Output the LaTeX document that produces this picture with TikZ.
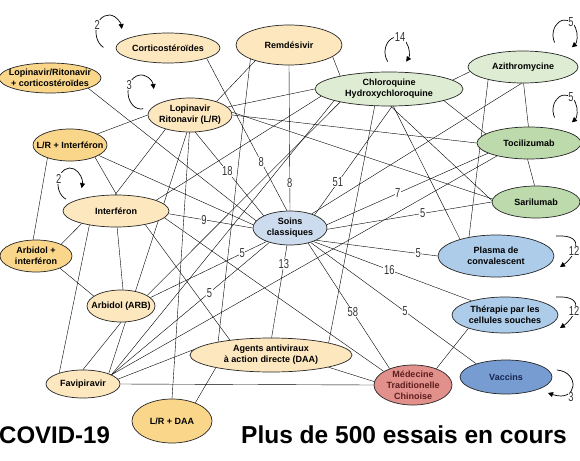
\documentclass[tikz,border=0pt]{standalone}
\usepackage{fontspec}
\setmainfont{Liberation Sans}
\usepackage{graphicx}
\usetikzlibrary{shapes.geometric,arrows.meta,backgrounds}

\definecolor{peachL}{RGB}{252,231,190}
\definecolor{peachD}{RGB}{249,214,137}
\definecolor{greenL}{RGB}{221,236,210}
\definecolor{greenD}{RGB}{188,218,172}
\definecolor{soinsB}{RGB}{205,219,238}
\definecolor{blueL}{RGB}{172,204,234}
\definecolor{blueD}{RGB}{118,156,210}
\definecolor{redL}{RGB}{226,144,140}
\definecolor{redT}{RGB}{92,30,30}
\definecolor{blueT}{RGB}{22,36,80}

% condensed trial counts
\newcommand{\nm}[1]{\scalebox{0.72}[1]{#1}}

\begin{document}
\begin{tikzpicture}[x=1pt, y=-1pt, >={Triangle[length=5pt,width=5pt]},
	trial/.style={ellipse, draw=black!85, line width=0.7pt, align=center,
		font=\bfseries\fontsize{9}{11}\selectfont, inner xsep=-60pt, inner ysep=-40pt},
	sz/.style 2 args={minimum width=#1pt, minimum height=#2pt},
	num/.style={fill=white, inner sep=0.6pt, font=\fontsize{13}{13}\selectfont, text=black!80}]
	\useasboundingbox (0,0) rectangle (580,460);
	% treatments, pixel coordinates (y down)
	\node[trial, sz={104}{30}, fill=peachL] (cort) at (168,48) {Corticostéroïdes};
	\node[trial, sz={106}{40}, fill=peachL] (remd) at (289,45) {Remdésivir};
	\node[trial, sz={102}{30}, fill=peachD] (lrcort) at (50,78) {Lopinavir/Ritonavir\\+ corticostéroïdes};
	\node[trial, sz={84}{34}, fill=peachL] (lr) at (190,115) {Lopinavir\\Ritonavir (L/R)};
	\node[trial, sz={74}{32}, fill=peachD] (lrint) at (70,145) {L/R + Interféron};
	\node[trial, sz={106}{32}, fill=peachL] (intf) at (116,211) {Interféron};
	\node[trial, sz={72}{32}, fill=peachD] (arbint) at (36,256) {Arbidol +\\interféron};
	\node[trial, sz={68}{32}, fill=peachL] (arb) at (121,306) {Arbidol (ARB)};
	\node[trial, sz={74}{28}, fill=peachL] (favi) at (83,384) {Favipiravir};
	\node[trial, sz={80}{44}, fill=peachD] (lrdaa) at (172,421) {L/R + DAA};
	\node[trial, sz={162}{34}, fill=peachL] (daa) at (271,355) {Agents antiviraux\\à action directe (DAA)};
	\node[trial, sz={74}{34}, fill=soinsB] (soins) at (290,228) {Soins\\classiques};
	\node[trial, sz={148}{34}, fill=greenL] (chloro) at (389,89) {Chloroquine\\Hydroxychloroquine};
	\node[trial, sz={110}{32}, fill=greenL] (azi) at (523,67) {Azithromycine};
	\node[trial, sz={104}{32}, fill=greenD] (toci) at (529,143) {Tocilizumab};
	\node[trial, sz={88}{32}, fill=greenD] (sari) at (536,202) {Sarilumab};
	\node[trial, sz={116}{42}, fill=blueL] (plasma) at (496,256) {Plasma de\\convalescent};
	\node[trial, sz={106}{36}, fill=blueL] (thera) at (505,315) {Thérapie par les\\cellules souches};
	\node[trial, sz={92}{34}, fill=blueD, text=blueT] (vacc) at (506,377) {Vaccins};
	\node[trial, sz={78}{40}, fill=redL, text=redT] (mtc) at (413,385) {Médecine\\Traditionelle\\Chinoise};

	\begin{scope}[on background layer, line width=0.7pt]
		% links with trial counts
		\draw (cort.-15) -- node[num,pos=.68]{\nm{8}} (soins.100);
		\draw (remd.-90) -- node[num,pos=.81]{\nm{8}} (soins.90);
		\draw (lr.-73) -- node[num,pos=.47]{\nm{18}} (soins.155);
		\draw (intf.-3) -- node[num,pos=.42]{\nm{9}} (soins.180);
		\draw (arb.16) -- node[num,pos=.79]{\nm{5}} (soins.-150);
		\draw (favi.18) -- node[num,pos=.62]{\nm{5}} (soins.-145);
		\draw (soins.-100) -- node[num,pos=.2]{\nm{13}} (daa.88);
		\draw (soins.28) -- node[num,pos=.3]{\nm{51}} (chloro.-80);
		\draw (soins.5) -- node[num,pos=.44]{\nm{7}} (toci.-166);
		\draw (soins.-2) -- node[num,pos=.58]{\nm{5}} (sari.180);
		\draw (soins.-25) -- node[num,pos=.84]{\nm{5}} (plasma.180);
		\draw (soins.-30) -- node[num,pos=.48]{\nm{16}} (thera.157);
		\draw (soins.-35) -- node[num,pos=.57]{\nm{5}} (vacc.156);
		\draw (soins.-40) -- node[num,pos=.55]{\nm{58}} (mtc.145);
		% other links
		\draw (lrcort.-15) -- (soins.168);
		\draw (lrint.-20) -- (soins.175);
		\draw (soins.33) -- (azi.-95);
		\draw (remd.-155) -- (lr.27);
		\draw (remd.-160) -- (daa.166);
		\draw (remd.-15) -- (chloro.165);
		\draw (lr.180) -- (lrint.22);
		\draw (lr.-150) -- (intf.93);
		\draw (lr.-100) -- (favi.22);
		\draw (lr.-92) -- (lrdaa.90);
		\draw (lr.12) -- (chloro.180);
		\draw (lr.0) -- (toci.180);
		\draw (lr.4) -- (sari.176);
		\draw (lrint.-26) -- (intf.88);
		\draw (lrint.-150) -- (arbint.100);
		\draw (intf.15) -- (chloro.186);
		\draw (intf.-86) -- (arb.83);
		\draw (intf.-160) -- (arbint.25);
		\draw (intf.-152) -- (favi.155);
		\draw (intf.-25) -- (daa.160);
		\draw (intf.-8) -- (mtc.155);
		\draw (arbint.-27) -- (arb.160);
		\draw (arb.22) -- (chloro.-165);
		\draw (favi.90) -- (arb.-90);
		\draw (favi.18) -- (chloro.-168);
		\draw (favi.18) -- (toci.-158);
		\draw (favi.8) -- (daa.176);
		\draw (favi.0) -- (mtc.180);
		\draw (daa.-167) -- (lrdaa.38);
		\draw (daa.12) -- (chloro.-130);
		\draw (daa.-12) -- (mtc.175);
		\draw (chloro.8) -- (azi.185);
		\draw (chloro.-12) -- (toci.168);
		\draw (chloro.-84) -- (sari.178);
		\draw (chloro.-76) -- (plasma.155);
		\draw (azi.-88) -- (toci.92);
		\draw (azi.-160) -- (plasma.145);
		\draw (toci.-95) -- (sari.95);
		\draw (mtc.35) -- (thera.-160);
	\end{scope}

	% repeated trials: loops on the left of the node
	\foreach \cx/\cy/\rx/\ry/\sa/\ea/\la/\txt in {109/32/13/17/115/350/205/2, 141/92/13/17/80/350/205/3,
		70/184/12/16/110/375/200/2, 397/52/12/15/140/400/285/14, 565/35/12/15/150/415/300/5,
		565/110/12/15/150/415/300/5}{
		\draw[->, line width=0.7pt] (\cx,\cy) ++(\sa:{\rx} and {\ry}) arc[start angle=\sa, end angle=\ea, x radius=\rx, y radius=\ry];
		\path (\cx,\cy) ++(\la:{\rx} and {\ry}) node[num] {\nm{\txt}};
	}
	% loops on the right edge
	\draw[->, line width=0.7pt] (556,236) .. controls (590,234) and (572,259) .. (560,267);
	\node[num] (nplasma) at (574,251) {\nm{12}};
	\draw[->, line width=0.7pt] (556,297) .. controls (590,295) and (572,320) .. (560,328);
	\node[num] (nthera) at (574,311) {\nm{12}};
	\draw[->, line width=0.7pt] (557,370) .. controls (580,372) and (578,403) .. (548,393);
	\node[num] (nvacc) at (571,397) {\nm{3}};

	% titles
	\node[anchor=base west, inner sep=0pt, font=\bfseries\fontsize{24}{24}\selectfont] (covid) at (-1,443) {COVID-19};
	\node[anchor=base west, inner sep=0pt, font=\bfseries\fontsize{24.5}{24.5}\selectfont] (essais) at (241,443) {Plus de 500 essais en cours};
\end{tikzpicture}
\end{document}
